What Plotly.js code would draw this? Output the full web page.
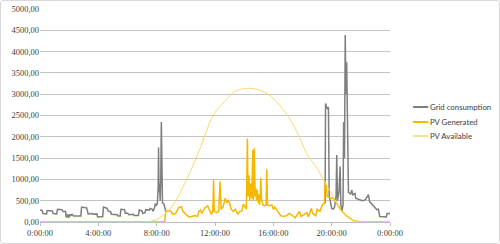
<!DOCTYPE html>
<html>
<head>
<meta charset="utf-8">
<script src="https://cdn.plot.ly/plotly-3.0.1.min.js"></script>
<style>
html,body{margin:0;padding:0;background:#fff;}
#frame{position:absolute;left:0;top:0;width:498px;height:242px;border:1px solid #d9d9d9;border-radius:3px;overflow:hidden;}
#chart{width:498px;height:242px;}
</style>
</head>
<body>
<div id="frame"><div id="chart"></div></div>
<script>
// X axis ticks (hours of day)
const xTickVals = [0, 4, 8, 12, 16, 20, 24];
const xTickLabels = ["0:00:00", "4:00:00", "8:00:00", "12:00:00", "16:00:00", "20:00:00", "0:00:00"];

// Series names
const seriesNames = ["Grid consumption", "PV Generated", "PV Available"];

// Grid consumption (hour, W); null = no grid draw while PV covers the load
const gridHours = [0.0,0.15,0.2,0.45,0.5,0.85,0.9,1.15,1.2,1.5,1.6,1.75,1.8,1.9,1.95,2.05,2.1,2.2,2.3,2.5,2.6,2.8,2.85,3.2,3.3,3.6,3.65,3.9,3.95,4.3,4.35,4.6,4.7,4.85,4.9,5.3,5.35,5.5,5.55,5.8,5.85,6.0,6.1,6.4,6.45,6.75,6.8,7.0,7.05,7.2,7.25,7.5,7.55,7.7,7.75,7.85,7.9,8.0,8.05,8.1,8.13,8.16,8.2,8.24,8.28,8.32,8.36,8.4,8.5,8.55,8.62,8.64,19.5,19.55,19.58,19.65,19.72,19.78,19.83,19.9,20.0,20.1,20.2,20.3,20.35,20.4,20.5,20.58,20.63,20.7,20.78,20.82,20.88,20.93,20.98,21.03,21.1,21.15,21.3,21.37,21.45,21.6,21.65,21.8,22.0,22.1,22.3,22.45,22.52,22.6,22.75,22.9,23.0,23.1,23.2,23.3,23.6,23.75,23.8,24.0];
const gridValues = [280,270,200,190,270,260,200,190,300,290,240,250,110,180,100,180,150,180,140,150,140,140,350,330,190,200,180,190,120,130,350,320,250,240,180,170,140,140,300,290,200,210,170,180,150,150,280,260,200,220,290,280,320,300,250,330,420,400,450,800,1750,700,900,500,1000,2350,700,450,420,300,250,null,null,440,2780,2700,2650,2700,600,500,320,300,350,600,1570,500,700,1300,400,250,400,2350,1500,4390,3000,3750,900,700,650,750,640,670,560,540,520,500,520,600,640,480,430,360,330,290,300,130,125,120,200,200];

// PV generated (hour, W)
const pvGenHours = [0,8.55,8.62,8.8,9.0,9.1,9.3,9.5,9.7,9.8,10.0,10.2,10.4,10.6,10.8,10.9,11.0,11.1,11.3,11.5,11.6,11.75,11.85,11.9,11.95,12.1,12.25,12.35,12.42,12.55,12.7,12.8,12.9,13.0,13.1,13.25,13.4,13.55,13.7,13.85,13.95,14.05,14.15,14.22,14.27,14.32,14.38,14.45,14.52,14.59,14.63,14.7,14.75,14.8,14.85,14.9,14.95,15.0,15.05,15.1,15.14,15.2,15.3,15.4,15.5,15.55,15.6,15.75,15.9,16.0,16.1,16.3,16.5,16.7,16.9,17.1,17.3,17.5,17.7,17.8,17.9,18.1,18.3,18.4,18.6,18.7,18.9,19.0,19.2,19.3,19.4,19.5,19.55,19.62,19.7,19.8,19.95,20.1,20.2,20.35,20.6,21.0,21.5,22.0,24.0];
const pvGenValues = [0,0,250,270,250,180,200,340,360,250,180,120,130,150,130,250,280,200,330,380,300,180,250,990,250,220,250,950,300,350,560,450,500,450,300,250,300,180,250,260,420,350,300,1960,600,1100,500,900,550,1690,500,1730,600,800,500,750,450,650,400,600,1030,500,400,380,400,1240,400,380,400,300,350,250,150,130,150,200,140,100,200,250,130,180,220,120,320,200,150,300,250,350,420,440,940,850,600,580,560,560,520,440,290,150,30,0,0];

// PV available (hour, W)
const pvAvailHours = [0,7.0,7.5,8.0,8.5,8.9,9.4,9.8,10.3,10.97,11.66,12.1,12.8,13.3,13.8,14.3,14.8,15.5,16.0,16.7,17.3,17.8,18.3,19.0,19.43,19.9,20.35,20.6,21.0,21.5,22.0,24.0];
const pvAvailValues = [0,0,10,60,170,300,550,820,1180,1720,2350,2620,2880,3050,3120,3140,3120,3030,2900,2630,2330,1980,1600,1260,1000,720,440,290,150,30,0,0];

const colors = ["#7f7f7f", "#f5b800", "#fbd766"];
const widths = [1.5, 1.5, 1];

const traces = [
  {x: gridHours, y: gridValues, name: seriesNames[0], type: "scatter", mode: "lines",
   connectgaps: false, line: {color: colors[0], width: widths[0]}},
  {x: pvGenHours, y: pvGenValues, name: seriesNames[1], type: "scatter", mode: "lines",
   line: {color: colors[1], width: widths[1]}},
  {x: pvAvailHours, y: pvAvailValues, name: seriesNames[2], type: "scatter", mode: "lines",
   line: {color: colors[2], width: widths[2], shape: "spline", smoothing: 0.6}}
];

// Legend drawn as short line samples + text at the right of the plot
const legendRowY = [0.540, 0.469, 0.404];
const shapes = seriesNames.map((n, i) => ({
  type: "line", xref: "paper", yref: "paper",
  x0: 1.066, x1: 1.109, y0: legendRowY[i], y1: legendRowY[i],
  line: {color: colors[i], width: widths[i] + 0.5}
}));
const annotations = seriesNames.map((n, i) => ({
  text: n, xref: "paper", yref: "paper", x: 1.112, y: legendRowY[i],
  xanchor: "left", yanchor: "middle", showarrow: false, borderpad: 0,
  font: {family: "Lato, 'Liberation Sans', sans-serif", size: 7.8, color: "#404040"}
}));

const tickFont = {family: "'Liberation Serif', 'DejaVu Serif', serif", size: 8.5, color: "#404040"};

const layout = {
  width: 498, height: 242,
  margin: {l: 39, r: 109, t: 8, b: 21, autoexpand: false},
  paper_bgcolor: "#ffffff", plot_bgcolor: "#ffffff",
  separators: ",.",
  showlegend: false,
  shapes: shapes,
  annotations: annotations,
  xaxis: {range: [0, 24], tickvals: xTickVals, ticktext: xTickLabels,
          showgrid: false, zeroline: false, showline: true, linecolor: "#bfbfbf", linewidth: 1,
          ticks: "outside", ticklen: 3, tickcolor: "#bfbfbf", fixedrange: true,
          tickfont: tickFont},
  yaxis: {range: [0, 5000], dtick: 500, tickformat: ".2f",
          showgrid: true, gridcolor: "#c4c4c4", gridwidth: 1, zeroline: false,
          showline: false, ticks: "", fixedrange: true,
          tickfont: tickFont}
};

Plotly.newPlot("chart", traces, layout, {staticPlot: true, displayModeBar: false});
</script>
</body>
</html>
